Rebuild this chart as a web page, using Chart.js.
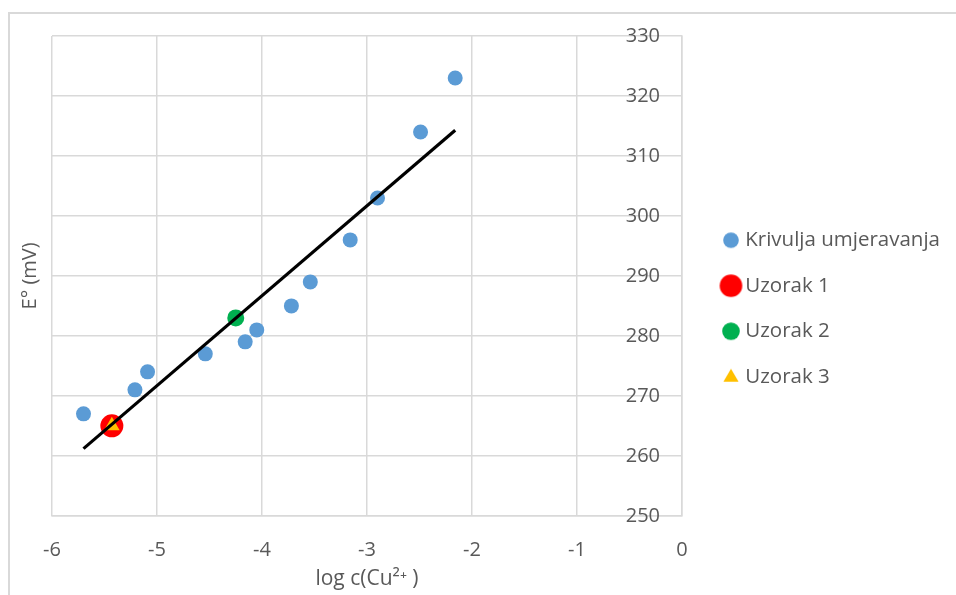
<!DOCTYPE html>
<html>
<head>
<meta charset="utf-8">
<script src="https://cdn.jsdelivr.net/npm/chart.js@4.4.1/dist/chart.umd.min.js"></script>
<style>
  html, body { margin: 0; padding: 0; background: #fff; overflow: hidden; }
  #frame { position: absolute; left: 8px; top: 12px; width: 1000px; height: 700px;
           border-left: 2px solid #d9d9d9; border-top: 2px solid #d9d9d9; }
  #wrap { position: absolute; left: 0; top: 0; width: 956px; height: 595px; }
</style>
</head>
<body>
<div id="frame"></div>
<div id="wrap"><canvas id="c"></canvas></div>
<script>
// calibration curve (log c vs E)
const calX = [-5.70, -5.21, -5.09, -4.54, -4.16, -4.05, -3.72, -3.54, -3.16, -2.90, -2.49, -2.16];
const calY = [267, 271, 274, 277, 279, 281, 285, 289, 296, 303, 314, 323];
// trendline end points
const fitX = [-5.70, -2.16];
const fitY = [261.2, 314.3];
// samples
const s1 = {x: -5.43, y: 265};
const s2 = {x: -4.25, y: 283};
const s3 = {x: -5.43, y: 265};

const labels = ['Krivulja umjeravanja', 'Uzorak 1', 'Uzorak 2', 'Uzorak 3'];
const colors = ['#5B9BD5', '#FF0000', '#00B050', '#FFC000'];
const xTicks = [-6, -5, -4, -3, -2, -1, 0];
const yTicks = [250, 260, 270, 280, 290, 300, 310, 320, 330];

const GRID = '#d9d9d9', TXT = '#595959';
const FONT = "'Open Sans', sans-serif";
const LEGEND_W = 254;

function marker(style, r, color) {
  const c = document.createElement('canvas');
  const d = Math.ceil(r * 2 + 2);
  c.width = d; c.height = d;
  const g = c.getContext('2d');
  g.fillStyle = color;
  g.beginPath();
  if (style === 'triangle') {
    g.moveTo(d / 2, d / 2 - r);
    g.lineTo(d / 2 + r * 0.95, d / 2 + r * 0.62);
    g.lineTo(d / 2 - r * 0.95, d / 2 + r * 0.62);
    g.closePath();
  } else {
    g.arc(d / 2, d / 2, r, 0, Math.PI * 2);
  }
  g.fill();
  return c;
}
const legendMarks = [
  marker('circle', 7.8, colors[0]),
  marker('circle', 11.3, colors[1]),
  marker('circle', 8.8, colors[2]),
  marker('triangle', 8, colors[3])
];

// legend on the right is capped to a fraction of the width; give it room
const legendWidth = {
  id: 'legendWidth',
  beforeLayout(chart) {
    const lg = chart.legend;
    if (lg && !lg._wide) {
      const fit = lg.fit;
      lg.fit = function () { fit.call(this); this.width = LEGEND_W; };
      lg._wide = true;
    }
  }
};

new Chart(document.getElementById('c'), {
  type: 'scatter',
  plugins: [legendWidth],
  data: {
    datasets: [
      {label: 'fit', type: 'line', data: fitX.map((x, i) => ({x, y: fitY[i]})),
       borderColor: '#000', borderWidth: 3.2, pointRadius: 0, fill: false, order: 0},
      {label: labels[0], data: calX.map((x, i) => ({x, y: calY[i]})),
       backgroundColor: colors[0], borderWidth: 0, pointRadius: 7.5, order: 3},
      {label: labels[1], data: [s1], backgroundColor: colors[1], borderWidth: 0, pointRadius: 11.5, order: 2},
      {label: labels[2], data: [s2], backgroundColor: colors[2], borderWidth: 0, pointRadius: 8.5, order: 2},
      {label: labels[3], data: [s3], backgroundColor: colors[3], borderWidth: 0, pointRadius: 9,
       pointStyle: 'triangle', order: 1}
    ]
  },
  options: {
    responsive: true,
    maintainAspectRatio: false,
    animation: false,
    layout: { padding: { left: 14, top: 36, right: 0, bottom: 0 } },
    plugins: {
      tooltip: { enabled: false },
      legend: {
        position: 'right',
        align: 'start',
        title: { display: true, text: '', padding: { top: 159, bottom: 0 }, font: { size: 10, lineHeight: 1 } },
        labels: {
          usePointStyle: true, boxWidth: 8, boxHeight: 8, padding: 25,
          color: TXT, font: { family: FONT, size: 20.5 },
          sort: (a, b) => a.datasetIndex - b.datasetIndex,
          generateLabels: chart => {
            const items = Chart.defaults.plugins.legend.labels.generateLabels(chart);
            return items.filter(it => it.datasetIndex > 0).map(it => {
              it.pointStyle = legendMarks[it.datasetIndex - 1];
              return it;
            });
          }
        }
      }
    },
    scales: {
      x: {
        type: 'linear', min: -6, max: 0,
        afterBuildTicks: s => { s.ticks = xTicks.map(v => ({value: v})); },
        grid: { color: GRID, lineWidth: 1.5, drawTicks: false },
        border: { color: GRID, width: 1.5 },
        ticks: { color: TXT, font: { family: FONT, size: 20 }, padding: 22 },
        title: { display: true, text: 'log c(Cu²⁺ )', color: TXT,
                 font: { family: FONT, size: 21 }, padding: { top: -17, bottom: 3 } }
      },
      y: {
        type: 'linear', position: 'right', min: 250, max: 330,
        afterBuildTicks: s => { s.ticks = yTicks.map(v => ({value: v})); },
        afterFit: s => { s.width = 956 - LEGEND_W - 682; },
        grid: { color: GRID, lineWidth: 1.5, drawTicks: false },
        border: { color: GRID, width: 1.5 },
        ticks: { color: TXT, font: { family: FONT, size: 20 }, mirror: true, padding: -22 }
      },
      yTitle: {
        type: 'linear', position: 'left', min: 250, max: 330,
        grid: { display: false, drawTicks: false }, border: { display: false },
        ticks: { display: false },
        title: { display: true, text: 'E° (mV)', color: TXT,
                 font: { family: FONT, size: 20 }, padding: { top: 4, bottom: 10 } }
      }
    }
  }
});
</script>
</body>
</html>
